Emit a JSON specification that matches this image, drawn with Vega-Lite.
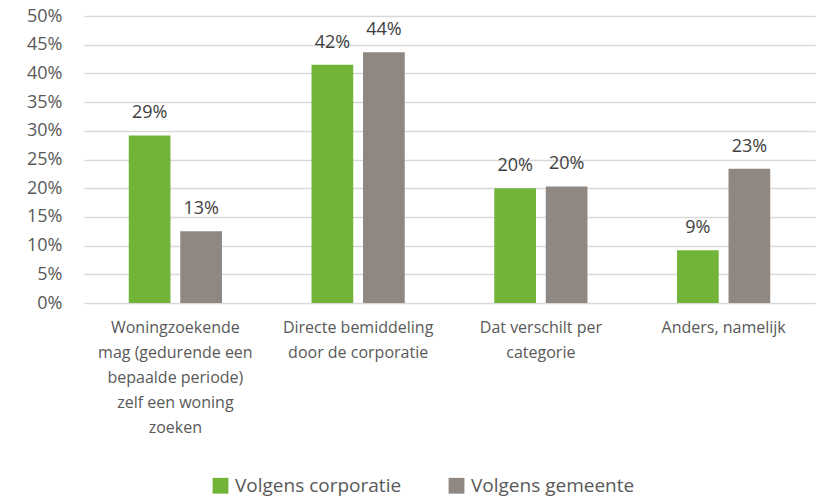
{
  "$schema": "https://vega.github.io/schema/vega-lite/v6.json",
  "width": 731,
  "height": 287,
  "autosize": {"type": "none"},
  "padding": {"left": 84, "top": 16, "right": 4, "bottom": 194},
  "background": "white",
  "config": {"view": {"stroke": null}, "font": "Open Sans"},
  "data": {"values": [
    {"cat": "Woningzoekende", "serie": "Volgens corporatie", "value": 0.292, "label": "29%"},
    {"cat": "Woningzoekende", "serie": "Volgens gemeente", "value": 0.125, "label": "13%"},
    {"cat": "Directe", "serie": "Volgens corporatie", "value": 0.415, "label": "42%"},
    {"cat": "Directe", "serie": "Volgens gemeente", "value": 0.437, "label": "44%"},
    {"cat": "Dat", "serie": "Volgens corporatie", "value": 0.200, "label": "20%"},
    {"cat": "Dat", "serie": "Volgens gemeente", "value": 0.203, "label": "20%"},
    {"cat": "Anders", "serie": "Volgens corporatie", "value": 0.092, "label": "9%"},
    {"cat": "Anders", "serie": "Volgens gemeente", "value": 0.234, "label": "23%"}
  ]},
  "encoding": {
    "x": {
      "field": "cat", "type": "nominal", "sort": null, "title": null,
      "scale": {"paddingInner": 0.49, "paddingOuter": 0.245},
      "axis": {
        "labelAngle": 0, "domain": false, "ticks": false, "labelPadding": 16,
        "labelFontSize": 16, "labelColor": "#595959", "labelLineHeight": 25,
        "labelLimit": 300, "labelBaseline": "top", "labelOverlap": false,
        "labelExpr": "datum.label == 'Woningzoekende' ? ['Woningzoekende', 'mag (gedurende een', 'bepaalde periode)', 'zelf een woning', 'zoeken'] : datum.label == 'Directe' ? ['Directe bemiddeling', 'door de corporatie'] : datum.label == 'Dat' ? ['Dat verschilt per', 'categorie'] : ['Anders, namelijk']"
      }
    },
    "xOffset": {"field": "serie", "type": "nominal", "scale": {"paddingInner": 0.19}},
    "y": {
      "field": "value", "type": "quantitative", "title": null,
      "scale": {"domain": [0, 0.5]},
      "axis": {
        "format": ".0%", "values": [0,0.05,0.1,0.15,0.2,0.25,0.3,0.35,0.4,0.45,0.5],
        "labelOverlap": false,
        "domain": false, "ticks": false, "labelPadding": 22,
        "labelFontSize": 18, "labelColor": "#595959",
        "gridColor": "#d9d9d9", "gridWidth": 1.3
      }
    },
    "color": {
      "field": "serie", "type": "nominal", "title": null,
      "scale": {"range": ["#71b438", "#8f8781"]},
      "legend": {
        "orient": "none", "legendX": 127, "legendY": 460, "direction": "horizontal",
        "symbolType": "square", "symbolSize": 250, "symbolStrokeWidth": 0,
        "labelFontSize": 19, "labelColor": "#595959", "columnPadding": 45, "labelOffset": 5,
        "labelLimit": 400
      }
    }
  },
  "layer": [
    {"mark": {"type": "bar"}},
    {
      "mark": {"type": "text", "dy": -17, "fontSize": 18, "color": "#404040", "baseline": "alphabetic"},
      "encoding": {"text": {"field": "label"}, "color": {"value": "#404040"}}
    }
  ]
}
